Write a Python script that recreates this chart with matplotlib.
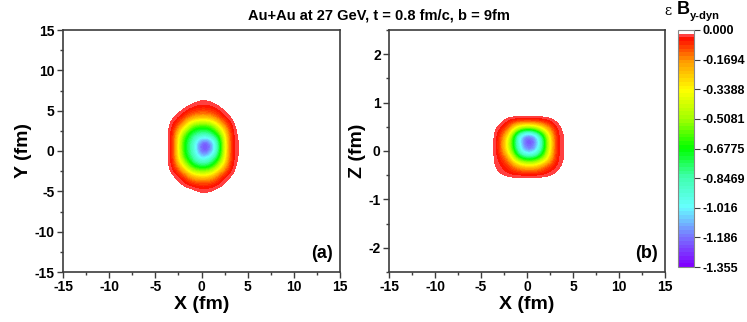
import numpy as np
import matplotlib
matplotlib.use('Agg')
import matplotlib.pyplot as plt
from matplotlib.colors import LinearSegmentedColormap, Normalize
from matplotlib.ticker import MultipleLocator

plt.rcParams['font.family'] = ['Liberation Sans', 'DejaVu Sans']
plt.rcParams['font.weight'] = 'bold'
plt.rcParams['axes.unicode_minus'] = False

# ---------------- data ----------------
title = "Au+Au at 27 GeV, t = 0.8 fm/c, b = 9fm"
cbar_ticks = [0.0, -0.1694, -0.3388, -0.5081, -0.6775, -0.8469, -1.016, -1.186, -1.355]
cbar_labels = ["0.000", "-0.1694", "-0.3388", "-0.5081", "-0.6775",
               "-0.8469", "-1.016", "-1.186", "-1.355"]
vmin, vmax = -1.355, 0.0

# panel (a): transverse plane, grid nodes (fm)
xy_x = [-5, -4, -3, -2, -1, 0, 1, 2, 3, 4, 5]
xy_y = [-6, -5, -4, -3, -2, -1, 0, 1, 2, 3, 4, 5, 6, 7]
xy_val = [
    [0, 0, 0, 0, 0, 0, 0, 0, 0, 0, 0],
    [0, 0, 0, 0, -0.005, -0.03, -0.02, 0, 0, 0, 0],
    [0, 0, 0, -0.03, -0.07, -0.09, -0.08, -0.04, 0, 0, 0],
    [0, 0, -0.02, -0.07, -0.28, -0.35, -0.3, -0.08, -0.025, 0, 0],
    [0, 0, -0.045, -0.3, -0.68, -0.74, -0.7, -0.35, -0.05, -0.005, 0],
    [0, 0, -0.05, -0.6, -0.82, -1.05, -0.9, -0.62, -0.055, -0.015, 0],
    [0, 0, -0.05, -0.68, -0.86, -1.3, -1.2, -0.7, -0.055, -0.018, 0],
    [0, 0, -0.05, -0.68, -0.86, -1.3, -1.2, -0.7, -0.055, -0.018, 0],
    [0, 0, -0.05, -0.58, -0.78, -0.86, -0.82, -0.6, -0.055, -0.012, 0],
    [0, 0, -0.045, -0.22, -0.62, -0.66, -0.64, -0.28, -0.05, 0, 0],
    [0, 0, -0.02, -0.07, -0.2, -0.25, -0.22, -0.08, -0.02, 0, 0],
    [0, 0, 0, -0.02, -0.06, -0.08, -0.07, -0.03, 0, 0, 0],
    [0, 0, 0, 0, -0.01, -0.03, -0.02, 0, 0, 0, 0],
    [0, 0, 0, 0, 0, 0, 0, 0, 0, 0, 0],
]

# panel (b): reaction plane, grid nodes (fm)
xz_x = [-5, -4, -3, -2, -1, 0, 1, 2, 3, 4, 5]
xz_z = [-0.75, -0.6, -0.45, -0.3, -0.15, 0.0, 0.15, 0.3, 0.45, 0.6, 0.75, 0.9]
xz_val = [
    [0, 0, 0, 0, 0, 0, 0, 0, 0, 0, 0],
    [0, 0, 0, 0, 0, 0, 0, 0, 0, 0, 0],
    [0, 0, -0.02, -0.05, -0.06, -0.06, -0.06, -0.05, -0.02, 0, 0],
    [0, 0, -0.04, -0.07, -0.22, -0.32, -0.3, -0.12, -0.05, -0.01, 0],
    [0, 0, -0.045, -0.15, -0.62, -0.78, -0.72, -0.45, -0.05, -0.02, 0],
    [0, -0.005, -0.045, -0.35, -0.88, -1.2, -1.08, -0.62, -0.05, -0.02, 0],
    [0, -0.005, -0.045, -0.42, -0.92, -1.3, -1.18, -0.66, -0.05, -0.02, 0],
    [0, 0, -0.04, -0.3, -0.95, -1.28, -1.12, -0.6, -0.05, -0.02, 0],
    [0, 0, -0.035, -0.1, -0.48, -0.62, -0.52, -0.25, -0.05, -0.01, 0],
    [0, 0, 0, -0.045, -0.06, -0.065, -0.06, -0.05, -0.02, 0, 0],
    [0, 0, 0, 0, 0, 0, 0, 0, 0, 0, 0],
    [0, 0, 0, 0, 0, 0, 0, 0, 0, 0, 0],
]

# ---------------- style ----------------
cmap = LinearSegmentedColormap.from_list('origin_rainbow', [
    (0.0, '#8000FF'), (0.125, '#7878FF'), (0.25, '#66FFFF'), (0.375, '#40FFB0'),
    (0.5, '#00FF00'), (0.625, '#A0FF00'), (0.75, '#FFFF00'), (0.875, '#FF9900'),
    (0.95, '#FF2A00'), (0.984, '#FF0000'), (0.9845, '#FFFFFF'), (1.0, '#FFFFFF')], N=64)
norm = Normalize(vmin=vmin, vmax=vmax)
frame_col = '#3c3c3c'

fig = plt.figure(figsize=(7.47, 3.22), dpi=100)
ax1 = fig.add_axes([63/747, 1-272/322, 277/747, 242/322])
ax2 = fig.add_axes([389/747, 1-272/322, 276/747, 242/322])
cax = fig.add_axes([678/747, 1-267/322, 16/747, 237/322])


def extent_of(xs, ys):
    dx = xs[1] - xs[0]
    dy = ys[1] - ys[0]
    return [xs[0] - dx/2, xs[-1] + dx/2, ys[0] - dy/2, ys[-1] + dy/2]


im = ax1.imshow(np.array(xy_val), origin='lower', extent=extent_of(xy_x, xy_y),
                cmap=cmap, norm=norm, interpolation='bicubic',
                interpolation_stage='data', aspect='auto')
ax2.imshow(np.array(xz_val), origin='lower', extent=extent_of(xz_x, xz_z),
           cmap=cmap, norm=norm, interpolation='bicubic',
           interpolation_stage='data', aspect='auto')

for ax in (ax1, ax2):
    ax.set_xlim(-15, 15)
    ax.xaxis.set_major_locator(MultipleLocator(5))
    ax.xaxis.set_minor_locator(MultipleLocator(2.5))
    ax.set_xlabel('X (fm)', fontsize=14, fontweight='bold', labelpad=1)
    ax.tick_params(which='both', direction='out', top=False, right=False,
                   color=frame_col, width=1.0, labelsize=10, pad=2)
    ax.tick_params(which='major', length=4)
    ax.tick_params(which='minor', length=2.5)
    for s in ax.spines.values():
        s.set_color(frame_col)
        s.set_linewidth(1.2)
    for lab in ax.get_xticklabels() + ax.get_yticklabels():
        lab.set_fontweight('bold')

ax1.set_ylim(-15, 15)
ax1.yaxis.set_major_locator(MultipleLocator(5))
ax1.yaxis.set_minor_locator(MultipleLocator(2.5))
ax1.set_ylabel('Y (fm)', fontsize=14, fontweight='bold', labelpad=2)

ax2.set_ylim(-2.5, 2.5)
ax2.yaxis.set_major_locator(MultipleLocator(1))
ax2.yaxis.set_minor_locator(MultipleLocator(0.5))
ax2.set_ylabel('Z (fm)', fontsize=14, fontweight='bold', labelpad=2)

ax1.text(0.975, 0.075, '(a)', transform=ax1.transAxes, ha='right', va='center',
         fontsize=13, fontweight='bold')
ax2.text(0.975, 0.075, '(b)', transform=ax2.transAxes, ha='right', va='center',
         fontsize=13, fontweight='bold')

fig.text(379/747, 1-16/322, title, ha='center', va='center', fontsize=10.5,
         fontweight='bold')

cb = fig.colorbar(im, cax=cax, ticks=cbar_ticks)
cb.ax.set_yticklabels(cbar_labels)
cb.ax.tick_params(direction='out', length=4, width=0.8, color=frame_col,
                  labelsize=9, pad=2)
for lab in cb.ax.get_yticklabels():
    lab.set_fontweight('bold')
cb.outline.set_edgecolor('#888888')
cb.outline.set_linewidth(0.8)

fig.text(664/747, 1-11/322, 'ε', ha='left', va='center', fontsize=10,
         family=['DejaVu Serif'], fontweight='normal')
fig.text(677/747, 1-10/322, 'B', ha='left', va='center', fontsize=13,
         fontweight='bold')
fig.text(690/747, 1-16/322, 'y-dyn', ha='left', va='center', fontsize=8,
         fontweight='bold')

fig.savefig('out.png', dpi=100)
